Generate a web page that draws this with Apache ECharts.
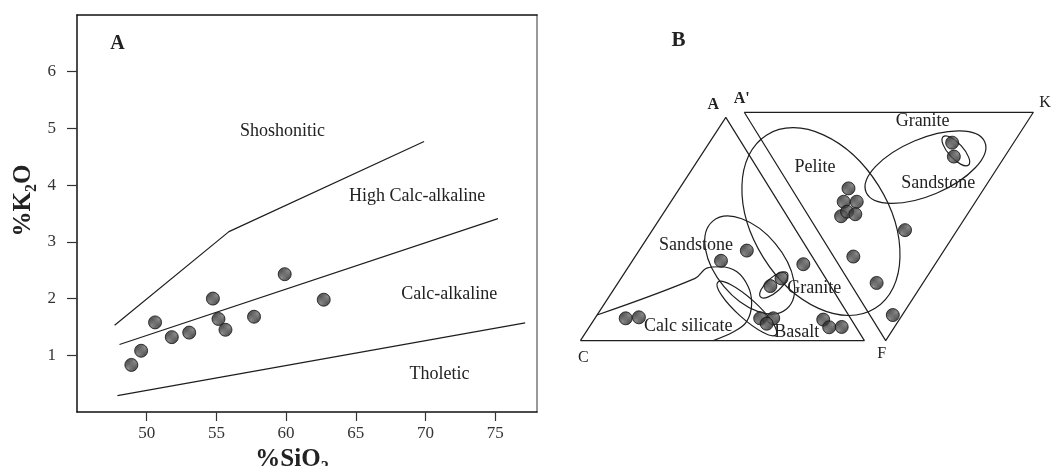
<!DOCTYPE html>
<html><head><meta charset="utf-8">
<script src="https://cdn.jsdelivr.net/npm/echarts@6/dist/echarts.min.js"></script>
<style>html,body{margin:0;padding:0;background:#fff}#c{width:1053px;height:466px}</style>
</head><body><div id="c"></div>
<script>
// ---------- Panel A: K2O vs SiO2 ----------
const sio2 = [48.9, 49.6, 50.6, 51.8, 53.05, 54.75, 55.15, 55.65, 57.7, 59.9, 62.7];
const k2o  = [0.83, 1.08, 1.58, 1.32, 1.40, 2.00, 1.64, 1.45, 1.68, 2.43, 1.98];
const shoshoniticBoundary = [[47.7, 1.53], [55.9, 3.18], [69.9, 4.77]];
const highCalcBoundary    = [[48.05, 1.19], [75.2, 3.41]];
const tholeiticBoundary   = [[47.9, 0.29], [77.15, 1.57]];
const xTicks = [50, 55, 60, 65, 70, 75];
const yTicks = [1, 2, 3, 4, 5, 6];
const regionNames = ['Shoshonitic', 'High Calc-alkaline', 'Calc-alkaline', 'Tholetic'];
const regionX = [59.75, 69.4, 71.7, 71.0];
const regionY = [4.95, 3.80, 2.07, 0.66];

// ---------- Panel B: ACF / A'KF diagram ----------
const triangleACF = [[0, 0], [51.2, 78.6], [100, 0], [0, 0]];
const triangleAKF = [[57.7, 80.4], [159.5, 80.4], [107.5, 0], [57.7, 80.4]];
const calcSilicateBoundary = [[5.85, 9.0], [40.4, 21.9], [44.5, 25.5], [49.2, 26.0], [55.0, 24.3], [59.1, 19.0], [60.3, 13.1], [58.4, 6.5], [53.8, 3.0], [46.8, 0]];
const bX = [15.95, 20.6, 49.5, 58.6, 78.5, 66.9, 70.8, 63.3, 67.9, 65.6, 85.5, 87.6, 92.0, 96.1, 104.3, 110.0, 114.3, 94.4, 92.7, 97.3, 91.8, 93.9, 96.8, 130.9, 131.5];
const bY = [7.85, 8.2, 28.1, 31.7, 26.9, 19.2, 21.9, 7.85, 7.85, 5.95, 7.4, 4.7, 4.8, 29.6, 20.3, 9.0, 38.9, 53.6, 48.9, 48.9, 43.8, 45.4, 44.5, 69.7, 64.8];
// ellipses: centre x, centre y, semi-major, semi-minor, tilt (deg, counter-clockwise)
const ellCX  = [84.7, 121.5, 132.2, 59.6, 58.6, 68.1];
const ellCY  = [41.9, 61.1, 66.8, 26.6, 11.3, 19.6];
const ellA   = [36.0, 22.7, 6.7, 20.2, 13.8, 6.3];
const ellB   = [23.9, 10.0, 2.6, 11.8, 3.5, 2.5];
const ellRot = [-58, 23, -48, -50, -42, 42];
const fieldNames = ['Pelite', 'Granite', 'Sandstone', 'Sandstone', 'Granite', 'Calc silicate', 'Basalt'];
const fieldX = [82.6, 120.5, 126.0, 40.7, 82.3, 38.0, 76.2];
const fieldY = [61.0, 77.1, 55.4, 33.7, 18.4, 4.9, 2.9];
const cornerNames = ['A', "A'", 'K', 'C', 'F', 'B'];
const cornerX = [46.8, 56.8, 163.6, 1.0, 106.1, 34.5];
const cornerY = [83.0, 85.0, 83.8, -6.0, -4.5, 105.8];
const cornerBold = [true, true, false, false, false, true];
const cornerSize = [16, 16, 16, 16, 16, 21];

const SERIF = "'Liberation Serif', 'DejaVu Serif', serif";

function hatch() {
  const c = document.createElement('canvas');
  c.width = 4; c.height = 4;
  const g = c.getContext('2d');
  g.fillStyle = '#2f2f2f'; g.fillRect(0, 0, 4, 4);
  g.strokeStyle = '#6e6e6e'; g.lineWidth = 1;
  g.beginPath(); g.moveTo(-1, 1); g.lineTo(1, -1); g.moveTo(0, 4); g.lineTo(4, 0); g.moveTo(3, 5); g.lineTo(5, 3); g.stroke();
  return c;
}
const dotFill = { image: hatch(), repeat: 'repeat' };
const dotStyle = { color: dotFill, borderColor: '#111', borderWidth: 1 };

function textSeries(gridIdx, xs, ys, names, fontFn) {
  return {
    type: 'custom', xAxisIndex: gridIdx, yAxisIndex: gridIdx, clip: false, silent: true, z: 5,
    data: xs.map((x, i) => [x, ys[i]]),
    renderItem: function (params, api) {
      const p = api.coord([api.value(0), api.value(1)]);
      return { type: 'text', x: p[0], y: p[1],
        style: { text: names[params.dataIndex], font: fontFn(params.dataIndex), fill: '#222', align: 'center', verticalAlign: 'middle' } };
    }
  };
}
function lineSeries(gridIdx, data, smooth) {
  return { type: 'line', xAxisIndex: gridIdx, yAxisIndex: gridIdx, data: data, symbol: 'none', smooth: smooth || false,
    clip: false, silent: true, lineStyle: { color: '#1e1e1e', width: 1.2 }, z: 2 };
}
const nameRich = {
  b: { fontFamily: SERIF, fontWeight: 'bold', fontSize: 25, color: '#222', lineHeight: 32, verticalAlign: 'middle' },
  s: { fontFamily: SERIF, fontWeight: 'bold', fontSize: 16, color: '#222', lineHeight: 32, verticalAlign: 'bottom' }
};

const option = {
  animation: false,
  backgroundColor: '#fff',
  grid: [
    { left: 77, top: 15, width: 460, height: 397, show: false, containLabel: false, outerBoundsMode: 'none' },
    { left: 552, top: 19.7, width: 497, height: 349.3, show: false, containLabel: false, outerBoundsMode: 'none' }
  ],
  xAxis: [
    { type: 'value', gridIndex: 0, min: 45, max: 78, interval: 5,
      name: '{b|%SiO}{s|2}', nameLocation: 'middle', nameGap: 25,
      nameTextStyle: { rich: nameRich, padding: [0, 30, 0, 0] },
      axisLine: { show: true, onZero: false, lineStyle: { color: '#111', width: 1.5 } },
      axisTick: { show: true, length: 9, customValues: xTicks, lineStyle: { color: '#333', width: 1.2 } },
      axisLabel: { customValues: xTicks, margin: 13, fontFamily: SERIF, fontSize: 17, color: '#333' },
      splitLine: { show: false } },
    { type: 'value', gridIndex: 1, min: -10, max: 165, show: false, splitLine: { show: false } },
    { type: 'value', gridIndex: 0, position: 'top', min: 45, max: 78,
      axisLine: { show: true, onZero: false, lineStyle: { color: '#111', width: 1.5 } },
      axisTick: { show: false }, axisLabel: { show: false }, splitLine: { show: false } }
  ],
  yAxis: [
    { type: 'value', gridIndex: 0, min: 0, max: 7, interval: 1,
      name: '{b|%K}{s|2}{b|O}', nameLocation: 'middle', nameRotate: 90, nameGap: 37,
      nameTextStyle: { rich: nameRich, padding: [0, 0, 0, 26] },
      axisLine: { show: true, onZero: false, lineStyle: { color: '#111', width: 1.5 } },
      axisTick: { show: true, length: 10, customValues: yTicks, lineStyle: { color: '#333', width: 1.2 } },
      axisLabel: { customValues: yTicks, margin: 21, fontFamily: SERIF, fontSize: 17, color: '#333' },
      splitLine: { show: false } },
    { type: 'value', gridIndex: 1, min: -10, max: 113, show: false, splitLine: { show: false } },
    { type: 'value', gridIndex: 0, position: 'right', min: 0, max: 7,
      axisLine: { show: true, onZero: false, lineStyle: { color: '#777', width: 1.5 } },
      axisTick: { show: false }, axisLabel: { show: false }, splitLine: { show: false } }
  ],
  series: [
    lineSeries(0, shoshoniticBoundary),
    lineSeries(0, highCalcBoundary),
    lineSeries(0, tholeiticBoundary),
    { type: 'scatter', xAxisIndex: 0, yAxisIndex: 0, data: sio2.map((x, i) => [x, k2o[i]]),
      symbolSize: 13, itemStyle: dotStyle, z: 4, silent: true },
    textSeries(0, regionX, regionY, regionNames, () => '18px ' + SERIF),
    textSeries(0, [47.9], [6.49], ['A'], () => 'bold 20px ' + SERIF),

    lineSeries(1, triangleACF),
    lineSeries(1, triangleAKF),
    lineSeries(1, calcSilicateBoundary, 0.35),
    { type: 'custom', xAxisIndex: 1, yAxisIndex: 1, clip: false, silent: true, z: 3,
      data: ellCX.map((x, i) => [x, ellCY[i], ellA[i], ellB[i], ellRot[i]]),
      renderItem: function (params, api) {
        const p = api.coord([api.value(0), api.value(1)]);
        const s = api.size([api.value(2), api.value(3)]);
        return { type: 'ellipse', x: p[0], y: p[1], rotation: api.value(4) * Math.PI / 180,
          shape: { cx: 0, cy: 0, rx: s[0], ry: s[1] },
          style: { fill: 'none', stroke: '#1e1e1e', lineWidth: 1.2 } };
      } },
    { type: 'scatter', xAxisIndex: 1, yAxisIndex: 1, data: bX.map((x, i) => [x, bY[i]]),
      symbolSize: 13, itemStyle: dotStyle, z: 4, silent: true, clip: false },
    textSeries(1, fieldX, fieldY, fieldNames, () => '18px ' + SERIF),
    textSeries(1, cornerX, cornerY, cornerNames, (i) => (cornerBold[i] ? 'bold ' : '') + cornerSize[i] + 'px ' + SERIF)
  ]
};
echarts.init(document.getElementById('c'), null, { renderer: 'canvas' }).setOption(option);
</script>
</body></html>
